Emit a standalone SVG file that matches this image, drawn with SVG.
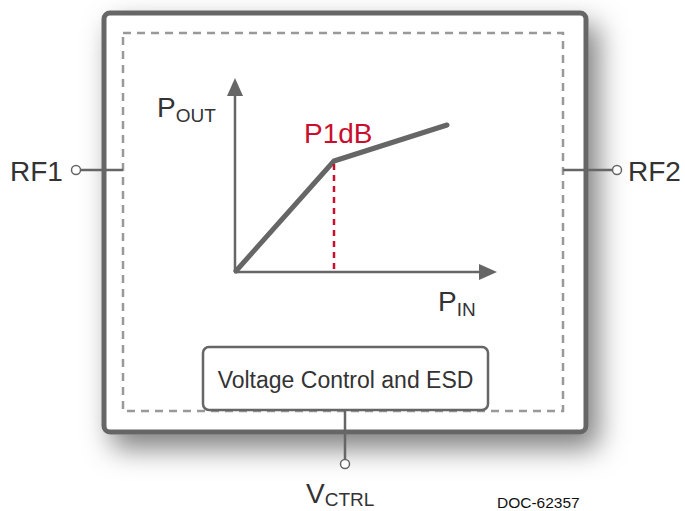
<svg xmlns="http://www.w3.org/2000/svg" width="685" height="511" viewBox="0 0 685 511">
<style>
text{font-family:"Liberation Sans",Arial,sans-serif;fill:#333}
.wire{stroke:#666;stroke-width:2.5;fill:none}
.pin{fill:#fff;stroke:#666;stroke-width:1.5}
</style>
<defs>
<filter id="sh" x="-20%" y="-20%" width="150%" height="150%">
<feDropShadow dx="10" dy="14" stdDeviation="14" flood-color="#000" flood-opacity="0.5"/>
</filter>
</defs>
<rect width="685" height="511" fill="#fff"/>
<g id="chip">
<rect x="104" y="13" width="482" height="419" rx="6" fill="#fff" stroke="#666" stroke-width="5" filter="url(#sh)"/>
<rect x="123" y="33" width="440" height="378" fill="none" stroke="#999" stroke-width="2.5" stroke-dasharray="8,6"/>
</g>
<g id="connectors">
<line class="wire" x1="80" y1="170" x2="123" y2="170"/>
<line class="wire" x1="563" y1="170" x2="613" y2="170"/>
<line class="wire" x1="345" y1="410" x2="345" y2="460"/>
<circle class="pin" cx="76" cy="170" r="4.5"/>
<circle class="pin" cx="617" cy="170" r="4.5"/>
<circle class="pin" cx="345" cy="464" r="4.5"/>
</g>
<g id="graph">
<line x1="235" y1="272" x2="235" y2="92" stroke="#666" stroke-width="2.5"/>
<path d="M235,78 l-8,18 h16 z" fill="#666"/>
<line x1="234" y1="272" x2="484" y2="272" stroke="#666" stroke-width="2.5"/>
<path d="M497,272 l-18,-8 v16 z" fill="#666"/>
<polyline points="236,271 334,161 447,125" fill="none" stroke="#666" stroke-width="5" stroke-linecap="round" stroke-linejoin="round"/>
<line x1="334" y1="164" x2="334" y2="272" stroke="#c8102e" stroke-width="2.5" stroke-dasharray="6,5"/>
<text x="304" y="143" font-size="28" style="fill:#c8102e">P1dB</text>
<text x="157" y="117" font-size="28">P<tspan font-size="19" dy="5">OUT</tspan></text>
<text x="438" y="311" font-size="28">P<tspan font-size="19" dy="5">IN</tspan></text>
</g>
<g id="rf1"><text x="10" y="181" font-size="28">RF1</text></g>
<g id="rf2"><text x="628" y="181" font-size="28">RF2</text></g>
<g id="vctl">
<rect x="203" y="347" width="285" height="63" rx="6" fill="#fff" stroke="#666" stroke-width="2.5"/>
<text x="345.5" y="388" font-size="23" text-anchor="middle">Voltage Control and ESD</text>
</g>
<g id="vctrl"><text x="306" y="503" font-size="28">V<tspan font-size="19" dy="3">CTRL</tspan></text></g>
<text x="497" y="508" font-size="15.5" style="fill:#111">DOC-62357</text>
</svg>
